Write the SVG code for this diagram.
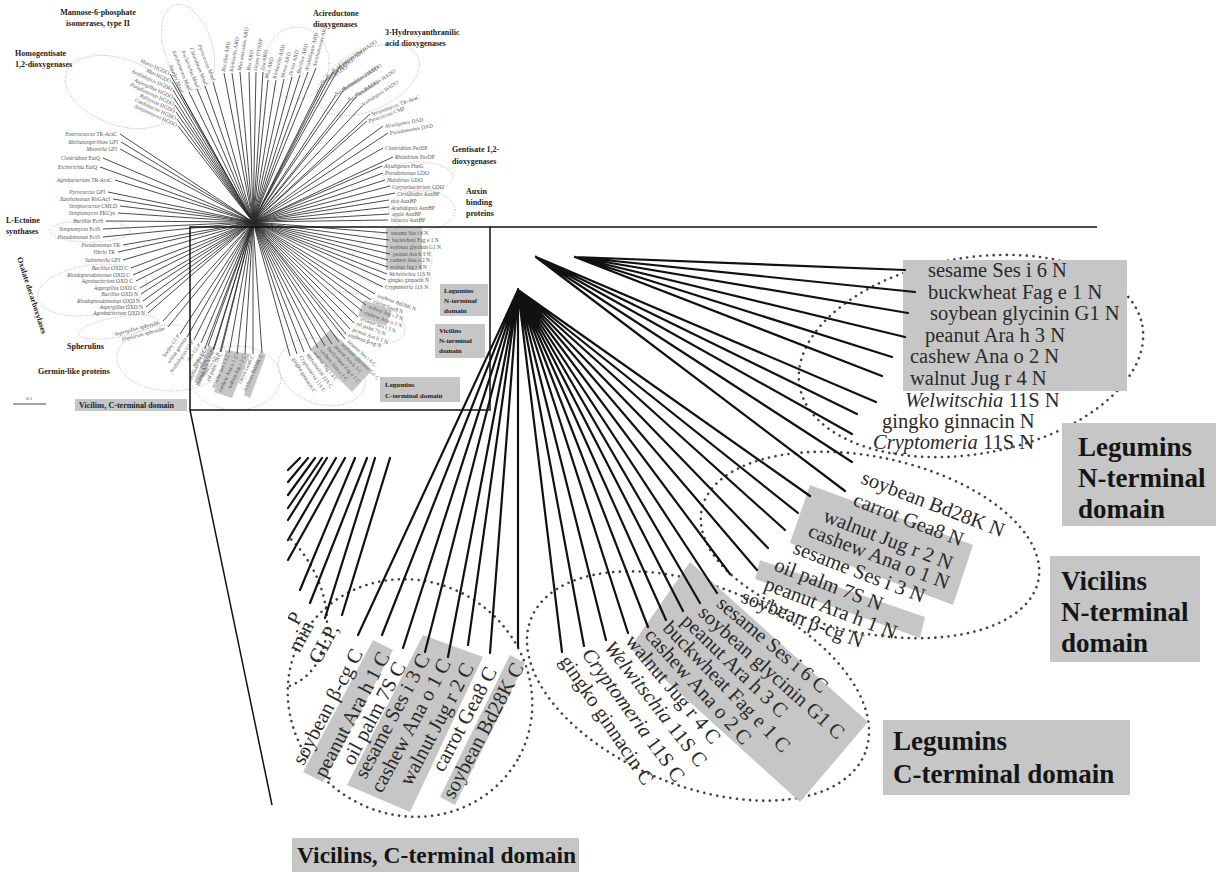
<svg xmlns="http://www.w3.org/2000/svg" width="1218" height="872" viewBox="0 0 1218 872">
<defs>
<style>
.br{stroke:#111;stroke-width:2.2;fill:none;stroke-linecap:round}
.sb{stroke:#2a2a2a;stroke-width:0.85;fill:none}
.dot{fill:none;stroke:#444;stroke-width:2.6;stroke-dasharray:0.1 6.5;stroke-linecap:round}
.sdot{fill:none;stroke:#999;stroke-width:0.7;stroke-dasharray:1 1.5}
.grey{fill:#c6c6c6}
.lbl{font-family:'Liberation Serif',serif;font-size:20.5px;fill:#2a2a2a}
.big{font-family:'Liberation Serif',serif;font-weight:bold;font-size:27px;fill:#151515}
.t{font-family:'Liberation Serif',serif;font-size:5.5px;fill:#555}
.g{font-family:'Liberation Serif',serif;font-weight:bold;font-size:8px;fill:#222}
.i{font-style:italic}
.frame{stroke:#111;stroke-width:1.5;fill:none}
</style>
<clipPath id="leftclip"><rect x="288" y="440" width="400" height="400"/></clipPath>
</defs>
<rect width="1218" height="872" fill="#fff"/>

<!-- ============ small overview tree ============ -->
<g id="overview-dotted">
<ellipse class="sdot" cx="120" cy="92" rx="57" ry="33" transform="rotate(20 120 92)"/>
<ellipse class="sdot" cx="188" cy="47" rx="24" ry="44" transform="rotate(-18 188 47)"/>
<ellipse class="sdot" cx="297" cy="63" rx="32" ry="36"/>
<ellipse class="sdot" cx="368" cy="80" rx="55" ry="30" transform="rotate(-25 368 80)"/>
<ellipse class="sdot" cx="418" cy="177" rx="35" ry="15"/>
<ellipse class="sdot" cx="422" cy="210" rx="33" ry="20"/>
<ellipse class="sdot" cx="90" cy="231" rx="40" ry="11"/>
<ellipse class="sdot" cx="92" cy="290" rx="55" ry="25" transform="rotate(-8 92 290)"/>
<ellipse class="sdot" cx="118" cy="327" rx="40" ry="10" transform="rotate(-10 118 327)"/>
<ellipse class="sdot" cx="172" cy="358" rx="55" ry="33"/>
<ellipse class="sdot" cx="392" cy="260" rx="40" ry="27"/>
<ellipse class="sdot" cx="362" cy="318" rx="45" ry="22" transform="rotate(20 362 318)"/>
<ellipse class="sdot" cx="322" cy="372" rx="45" ry="32" transform="rotate(20 322 372)"/>
<ellipse class="sdot" cx="236" cy="378" rx="45" ry="32"/>
</g>

<g id="overview-greyboxes">
<rect class="grey" x="386" y="228" width="36" height="42"/>
<polygon class="grey" points="364,300 392,310 386,326 358,316"/>
<polygon class="grey" points="330,330 372,370 352,392 310,350"/>
<polygon class="grey" points="209,345 215,348 200,385 194,382"/>
<polygon class="grey" points="226,350 250,354 232,398 214,392"/>
<polygon class="grey" points="260,352 266,355 250,398 244,395"/>
</g>

<g id="overview-branches">
<path class="sb" d="M253 222 L120 134 M253 222 L121 142 M253 222 L120 149 M253 222 L103 158 M253 222 L100 167 M253 222 L115 180 M253 222 L108 192 M253 222 L113 199 M253 222 L120 206 M253 222 L118 213 M253 222 L106 221 M253 222 L103 229 M253 222 L103 237 M253 222 L123 245 M253 222 L118 252 M253 222 L123 260 M253 222 L131 268 M253 222 L133 275 M253 222 L136 281 M253 222 L140 288 M253 222 L141 294 M253 222 L143 301 M253 222 L146 307 M253 222 L148 313 M253 222 L163 321 M253 222 L168 327
M253 222 L180 334 M253 222 L187 337 M253 222 L194 340 M253 222 L201 343 M253 222 L208 346 M253 222 L214 349 M253 222 L220 352
M253 222 L205 348 M253 222 L213 350 M253 222 L221 352 M253 222 L229 353 M253 222 L237 354 M253 222 L245 354 M253 222 L253 354 M253 222 L262 353
M253 222 L290 356 M253 222 L297 354 M253 222 L304 352 M253 222 L311 350 M253 222 L318 348 M253 222 L325 346 M253 222 L332 344 M253 222 L339 342 M253 222 L345 339
M253 222 L346 334 M253 222 L350 329 M253 222 L354 323 M253 222 L358 317 M253 222 L362 311 M253 222 L366 305 M253 222 L371 300 M253 222 L375 294
M253 222 L383 287 M253 222 L386 280 M253 222 L387 274 M253 222 L388 267 M253 222 L388 260 M253 222 L390 254 M253 222 L388 247 M253 222 L389 240 M253 222 L388 233
M253 222 L388 220 M253 222 L389 214 M253 222 L389 207 M253 222 L389 200 M253 222 L395 193 M253 222 L390 186 M253 222 L385 180 M253 222 L383 173 M253 222 L382 166 M253 222 L393 157 M253 222 L383 148 M253 222 L388 133 M253 222 L383 126 M253 222 L367 121 M253 222 L370 114
M253 222 L322 84 M253 222 L327 78 M253 222 L333 72 M253 222 L340 66 M253 222 L336 95 M253 222 L343 91 M253 222 L349 101 M253 222 L356 97 M253 222 L362 106
M253 222 L268 80 M253 222 L276 80 M253 222 L284 79 M253 222 L292 77 M253 222 L300 75 M253 222 L308 72 M253 222 L316 68
M253 222 L224 73 M253 222 L232 73 M253 222 L240 72 M253 222 L249 72 M253 222 L256 72 M253 222 L263 72
M253 222 L213 82 M253 222 L205 86 M253 222 L197 89 M253 222 L189 92 M253 222 L181 94
M253 222 L170 74 M253 222 L172 82 M253 222 L173 90 M253 222 L174 98 M253 222 L175 105 M253 222 L176 112 M253 222 L177 119 M253 222 L178 126"/>
</g>

<g id="overview-leaf-labels">
<g class="t" text-anchor="end">
<text x="117" y="136"><tspan class="i">Enterococcus</tspan> TR-AraC</text>
<text x="118" y="144"><tspan class="i">Methanospirillum</tspan> GPI</text>
<text x="117" y="151"><tspan class="i">Moorella</tspan> GPI</text>
<text x="100" y="160"><tspan class="i">Clostridium</tspan> EutQ</text>
<text x="97" y="169"><tspan class="i">Escherichia</tspan> EutQ</text>
<text x="112" y="182"><tspan class="i">Agrobacterium</tspan> TR-AraC</text>
<text x="105" y="194"><tspan class="i">Pyrococcus</tspan> GPI</text>
<text x="110" y="201"><tspan class="i">Xanthomonas</tspan> RbGAcI</text>
<text x="117" y="208"><tspan class="i">Streptococcus</tspan> CMLD</text>
<text x="115" y="215"><tspan class="i">Streptomyces</tspan> PKCys</text>
<text x="103" y="223"><tspan class="i">Bacillus</tspan> EctS</text>
<text x="100" y="231"><tspan class="i">Streptomyces</tspan> EctS</text>
<text x="100" y="239"><tspan class="i">Pseudomonas</tspan> EctS</text>
<text x="120" y="247"><tspan class="i">Pseudomonas</tspan> TR</text>
<text x="115" y="254"><tspan class="i">Vibrio</tspan> TR</text>
<text x="120" y="262"><tspan class="i">Salmonella</tspan> GPI</text>
<text x="128" y="270"><tspan class="i">Bacillus</tspan> OXD C</text>
<text x="130" y="277"><tspan class="i">Rhodopseudomonas</tspan> OXD C</text>
<text x="133" y="283"><tspan class="i">Agrobacterium</tspan> OXD C</text>
<text x="137" y="290"><tspan class="i">Aspergillus</tspan> OXD C</text>
<text x="138" y="296"><tspan class="i">Bacillus</tspan> OXD N</text>
<text x="140" y="303"><tspan class="i">Rhodopseudomonas</tspan> OXD N</text>
<text x="143" y="309"><tspan class="i">Aspergillus</tspan> OXD N</text>
<text x="145" y="315"><tspan class="i">Agrobacterium</tspan> OXD N</text>
<text transform="translate(160 324) rotate(-15)"><tspan class="i">Aspergillus</tspan> spherulin</text>
<text transform="translate(165 330) rotate(-15)"><tspan class="i">Physarum</tspan> spherulin</text>
<text transform="translate(180 336) rotate(-55)">barley GLP</text>
<text transform="translate(187 339) rotate(-55)">wheat germin</text>
<text transform="translate(194 342) rotate(-55)"><tspan class="i">Arabidopsis</tspan> GLP</text>
<text transform="translate(201 345) rotate(-55)">rice GLP</text>
<text transform="translate(208 348) rotate(-55)">moss GLP</text>
<text transform="translate(214 351) rotate(-55)">pine GLP</text>
<text transform="translate(220 354) rotate(-55)">tobacco GLP</text>
<text transform="translate(206 350) rotate(-65)">soybean β-cg C</text>
<text transform="translate(214 352) rotate(-65)">peanut Ara h 1 C</text>
<text transform="translate(222 354) rotate(-65)">oil palm 7S C</text>
<text transform="translate(230 355) rotate(-65)">sesame Ses i 3 C</text>
<text transform="translate(238 356) rotate(-65)">cashew Ana o 1 C</text>
<text transform="translate(246 356) rotate(-65)">walnut Jug r 2 C</text>
<text transform="translate(254 356) rotate(-65)">carrot Gea8 C</text>
<text transform="translate(263 355) rotate(-65)">soybean Bd28K C</text>
<text transform="translate(213 83) rotate(68)"><tspan class="i">Pyrococcus</tspan> ManC</text>
<text transform="translate(205 87) rotate(68)"><tspan class="i">Chlorobium</tspan> ManC</text>
<text transform="translate(197 90) rotate(68)"><tspan class="i">Escherichia</tspan> ManC</text>
<text transform="translate(189 93) rotate(68)"><tspan class="i">Xanthomonas</tspan> ManC</text>
<text transform="translate(181 95) rotate(68)"><tspan class="i">Aquifex</tspan> ManC</text>
<text transform="translate(168 75) rotate(25)"><tspan class="i">Homo</tspan> HGDO</text>
<text transform="translate(170 83) rotate(25)"><tspan class="i">Mus</tspan> HGDO</text>
<text transform="translate(171 91) rotate(25)"><tspan class="i">Arabidopsis</tspan> HGDO</text>
<text transform="translate(172 99) rotate(25)"><tspan class="i">Aspergillus</tspan> HGDO</text>
<text transform="translate(173 106) rotate(25)"><tspan class="i">Pseudomonas</tspan> HGDO</text>
<text transform="translate(174 113) rotate(25)"><tspan class="i">Ralstonia</tspan> HGDO</text>
<text transform="translate(175 120) rotate(25)"><tspan class="i">Caulobacter</tspan> HGDO</text>
<text transform="translate(176 127) rotate(25)"><tspan class="i">Streptomyces</tspan> HGDO</text>
</g>
<g class="t">
<text transform="translate(372 116) rotate(-20)"><tspan class="i">Streptomyces</tspan> TR-AraC</text>
<text transform="translate(369 123) rotate(-20)"><tspan class="i">Pyrococcus</tspan> CMP</text>
<text transform="translate(385 128) rotate(-10)"><tspan class="i">Alcaligenes</tspan> DAD</text>
<text transform="translate(390 135) rotate(-10)"><tspan class="i">Pseudomonas</tspan> DAD</text>
<text x="385" y="150"><tspan class="i">Clostridium</tspan> PecDP</text>
<text x="395" y="159"><tspan class="i">Rhizobium</tspan> PecDP</text>
<text x="384" y="168"><tspan class="i">Alcaligenes</tspan> PhnG</text>
<text x="385" y="175"><tspan class="i">Pseudomonas</tspan> GDO</text>
<text x="387" y="182"><tspan class="i">Haloferax</tspan> GDO</text>
<text x="392" y="189"><tspan class="i">Corynebacterium</tspan> GDO</text>
<text x="397" y="196"><tspan class="i">Cirsidiodes</tspan> AuxBP</text>
<text x="391" y="203">rice AuxBP</text>
<text x="391" y="210"><tspan class="i">Arabidopsis</tspan> AuxBP</text>
<text x="392" y="216">apple AuxBP</text>
<text x="391" y="222">tobacco AuxBP</text>
<text x="391" y="235">sesame Ses i 6 N</text>
<text x="392" y="242">buckwheat Fag e 1 N</text>
<text x="390" y="249">soybean glycinin G1 N</text>
<text x="393" y="256">peanut Ara h 3 N</text>
<text x="390" y="262">cashew Ana o 2 N</text>
<text x="390" y="269">walnut Jug r 4 N</text>
<text x="389" y="276"><tspan class="i">Welwitschia</tspan> 11S N</text>
<text x="388" y="282">gingko ginnacin N</text>
<text x="385" y="289"><tspan class="i">Cryptomeria</tspan> 11S N</text>
<text transform="translate(377 297) rotate(20)">soybean Bd28K N</text>
<text transform="translate(373 303) rotate(20)">carrot Gea8 N</text>
<text transform="translate(368 308) rotate(20)">walnut Jug r 2 N</text>
<text transform="translate(364 314) rotate(20)">cashew Ana o 1 N</text>
<text transform="translate(360 320) rotate(20)">sesame Ses i 3 N</text>
<text transform="translate(356 325) rotate(20)">oil palm 7S N</text>
<text transform="translate(352 331) rotate(20)">peanut Ara h 1 N</text>
<text transform="translate(348 336) rotate(20)">soybean β-cg N</text>
<text transform="translate(347 342) rotate(42)">sesame Ses i 6 C</text>
<text transform="translate(341 345) rotate(44)">soybean glycinin G1 C</text>
<text transform="translate(334 347) rotate(46)">peanut Ara h 3 C</text>
<text transform="translate(327 349) rotate(48)">buckwheat Fag e 1 C</text>
<text transform="translate(320 351) rotate(50)">cashew Ana o 2 C</text>
<text transform="translate(313 353) rotate(52)">walnut Jug r 4 C</text>
<text transform="translate(306 355) rotate(54)"><tspan class="i">Welwitschia</tspan> 11S C</text>
<text transform="translate(299 357) rotate(56)"><tspan class="i">Cryptomeria</tspan> 11S C</text>
<text transform="translate(292 359) rotate(58)">gingko ginnacin C</text>
<text transform="translate(322 85) rotate(-33)"><tspan class="i">Homo</tspan> HADO</text>
<text transform="translate(327 79) rotate(-33)"><tspan class="i">Rattus</tspan> HADO</text>
<text transform="translate(333 73) rotate(-33)"><tspan class="i">Ralstonia</tspan> HADO</text>
<text transform="translate(340 67) rotate(-33)"><tspan class="i">Cupriavidus</tspan> HADO</text>
<text transform="translate(336 96) rotate(-33)"><tspan class="i">Saccharomyces</tspan> HADO</text>
<text transform="translate(343 92) rotate(-33)"><tspan class="i">Burkholderia</tspan> HADO</text>
<text transform="translate(349 102) rotate(-33)"><tspan class="i">Bacillus</tspan> HADO</text>
<text transform="translate(356 98) rotate(-33)"><tspan class="i">Pseudomonas</tspan> HADO</text>
<text transform="translate(362 107) rotate(-33)"><tspan class="i">Arabidopsis</tspan> HADO</text>
<text transform="translate(268 79) rotate(-75)"><tspan class="i">Mus</tspan> ARD</text>
<text transform="translate(276 79) rotate(-75)"><tspan class="i">Klebsiella</tspan> ARD</text>
<text transform="translate(284 78) rotate(-75)"><tspan class="i">Homo</tspan> ARD</text>
<text transform="translate(292 76) rotate(-75)"><tspan class="i">Oryza</tspan> ARD</text>
<text transform="translate(300 74) rotate(-75)"><tspan class="i">Bacillus</tspan> ARD</text>
<text transform="translate(308 71) rotate(-75)"><tspan class="i">Arabidopsis</tspan> ARD</text>
<text transform="translate(316 67) rotate(-75)"><tspan class="i">Xanthomonas</tspan> ARD</text>
<text transform="translate(225 72) rotate(-80)"><tspan class="i">Bacillus</tspan> ARD</text>
<text transform="translate(233 72) rotate(-80)"><tspan class="i">Klebsiella</tspan> ARD</text>
<text transform="translate(241 71) rotate(-80)"><tspan class="i">Mus musculus</tspan> ARD</text>
<text transform="translate(250 71) rotate(-80)"><tspan class="i">Bos</tspan> ARD</text>
<text transform="translate(257 71) rotate(-80)"><tspan class="i">Oryza</tspan> DTNBP</text>
<text transform="translate(264 71) rotate(-80)"><tspan class="i">Zea</tspan> ARD</text>
</g>
</g>

<g id="overview-group-labels" class="g">
<text x="98" y="15" text-anchor="middle">Mannose-6-phosphate</text>
<text x="98" y="26" text-anchor="middle">isomerases, type II</text>
<text x="15" y="56">Homogentisate</text>
<text x="15" y="67">1,2-dioxygenases</text>
<text x="313" y="16">Acireductone</text>
<text x="313" y="27">dioxygenases</text>
<text x="385" y="35">3-Hydroxyanthranilic</text>
<text x="385" y="46">acid dioxygenases</text>
<text x="452" y="152">Gentisate 1,2-</text>
<text x="452" y="164">dioxygenases</text>
<text x="466" y="194">Auxin</text>
<text x="466" y="205">binding</text>
<text x="466" y="216">proteins</text>
<text x="6" y="223">L-Ectoine</text>
<text x="6" y="234">synthases</text>
<text transform="translate(17 258) rotate(72)">Oxalate decarboxylases</text>
<text x="67" y="349">Spherulins</text>
<text x="38" y="374">Germin-like proteins</text>
</g>

<g id="overview-scale">
<line x1="13" y1="404" x2="46" y2="404" stroke="#444" stroke-width="1"/>
<text x="29" y="400" text-anchor="middle" style="font-family:'Liberation Serif',serif;font-size:5px;fill:#444">0.1</text>
</g>

<g id="overview-domain-boxes">
<rect class="grey" x="75" y="399" width="112" height="12"/>
<text class="g" x="79" y="408">Vicilins, C-terminal domain</text>
<rect class="grey" x="440" y="284" width="48" height="32"/>
<text class="g" style="font-size:7px" x="444" y="293">Legumins</text>
<text class="g" style="font-size:7px" x="444" y="303">N-terminal</text>
<text class="g" style="font-size:7px" x="444" y="313">domain</text>
<rect class="grey" x="435" y="324" width="50" height="34"/>
<text class="g" style="font-size:7px" x="439" y="333">Vicilins</text>
<text class="g" style="font-size:7px" x="439" y="343">N-terminal</text>
<text class="g" style="font-size:7px" x="439" y="353">domain</text>
<rect class="grey" x="380" y="377" width="80" height="25"/>
<text class="g" style="font-size:7px" x="385" y="387">Legumins</text>
<text class="g" style="font-size:7px" x="385" y="398">C-terminal domain</text>
</g>

<g id="zoom-frame">
<rect class="frame" x="190" y="227" width="300" height="183"/>
<line class="frame" x1="490" y1="227" x2="1097" y2="227"/>
<line class="frame" x1="190" y1="410" x2="272" y2="805"/>
</g>

<!-- ============ enlarged tree ============ -->
<g id="zoom-ellipses">
<ellipse class="dot" cx="971" cy="356" rx="174" ry="98" transform="rotate(-10 971 356)"/>
<ellipse class="dot" cx="870" cy="545" rx="172" ry="88" transform="rotate(12 870 545)"/>
<ellipse class="dot" cx="698" cy="686" rx="180" ry="100" transform="rotate(22 698 686)"/>
<ellipse class="dot" cx="410" cy="698" rx="124" ry="117" transform="rotate(30 410 698)"/>
<g clip-path="url(#leftclip)"><ellipse class="dot" cx="250" cy="600" rx="70" ry="95" transform="rotate(-30 250 600)"/></g>
</g>

<g id="zoom-greyboxes">
<rect class="grey" x="903" y="260" width="224" height="131"/>
<polygon class="grey" points="810,485 973,545 953,605 790,543"/>
<polygon class="grey" points="760,560 925,617 920,638 755,579"/>
<polygon class="grey" points="690,562 868,722 800,802 630,648"/>
<polygon class="grey" points="303,772 373,640 393,650 323,782"/>
<polygon class="grey" points="347,785 423,635 483,657 410,812"/>
<polygon class="grey" points="440,797 510,655 525,663 455,805"/>
</g>

<g id="zoom-branches">
<path class="br" d="M575 257 L905 270 M575 257 L915 292 M575 257 L908 313 M575 257 L905 337 M575 257 L892 357 M575 257 L882 376
M536 257 L876 402 M536 257 L857 414 M536 257 L852 434 M536 257 L852 462 M536 257 L845 491
M518 290 L810 496 M518 290 L798 513 M518 290 L785 530 M518 290 L768 548 M518 290 L757 570 M518 290 L730 574
M518 290 L717 593 M518 290 L700 603 M518 290 L683 611 M518 290 L666 620 M518 290 L648 627 M518 290 L628 633 M518 290 L606 640 M518 290 L584 646 M518 290 L562 652
M518 290 L518 647 M518 290 L490 653 M518 290 L468 645 M518 290 L448 657 M518 290 L425 652 M518 290 L403 648 M518 290 L382 635 M518 290 L358 635
M300 458 L288 470 M308 458 L288 482 M315 458 L288 495 M322 458 L288 508 M327 458 L288 520 M336 458 L288 540 M345 458 L288 560 M355 458 L300 590 M367 458 L310 603 M375 458 L325 618 M390 458 L342 615"/>
</g>

<g id="zoom-legumin-N-labels" class="lbl">
<text x="928" y="277">sesame Ses i 6 N</text>
<text x="928" y="299">buckwheat Fag e 1 N</text>
<text x="930" y="320">soybean glycinin G1 N</text>
<text x="925" y="342">peanut Ara h 3 N</text>
<text x="910" y="363">cashew Ana o 2 N</text>
<text x="910" y="385">walnut Jug r 4 N</text>
<text x="905" y="407"><tspan class="i">Welwitschia</tspan> 11S N</text>
<text x="882" y="428">gingko ginnacin N</text>
<text x="873" y="449"><tspan class="i">Cryptomeria</tspan> 11S N</text>
</g>

<g id="zoom-vicilin-N-labels" class="lbl">
<text transform="translate(860 483) rotate(21)">soybean Bd28K N</text>
<text transform="translate(852 505) rotate(21)">carrot Gea8 N</text>
<text transform="translate(822 521) rotate(21)">walnut Jug r 2 N</text>
<text transform="translate(807 536) rotate(21)">cashew Ana o 1 N</text>
<text transform="translate(792 553) rotate(21)">sesame Ses i 3 N</text>
<text transform="translate(773 570) rotate(21)">oil palm 7S N</text>
<text transform="translate(763 589) rotate(21)">peanut Ara h 1 N</text>
<text transform="translate(740 602) rotate(21)">soybean β-cg N</text>
</g>

<g id="zoom-legumin-C-labels" class="lbl">
<text transform="translate(720 600) rotate(40)" dy="0.35em">sesame Ses i 6 C</text>
<text transform="translate(702 609) rotate(42)" dy="0.35em">soybean glycinin G1 C</text>
<text transform="translate(685 617) rotate(44)" dy="0.35em">peanut Ara h 3 C</text>
<text transform="translate(667 624) rotate(46)" dy="0.35em">buckwheat Fag e 1 C</text>
<text transform="translate(649 631) rotate(48)" dy="0.35em">cashew Ana o 2 C</text>
<text transform="translate(630 637) rotate(50)" dy="0.35em">walnut Jug r 4 C</text>
<text transform="translate(609 643) rotate(52)" dy="0.35em"><tspan class="i">Welwitschia</tspan> 11S C</text>
<text transform="translate(587 650) rotate(54)" dy="0.35em"><tspan class="i">Cryptomeria</tspan> 11S C</text>
<text transform="translate(565 657) rotate(56)" dy="0.35em">gingko ginnacin C</text>
</g>

<g id="zoom-vicilin-C-labels" class="lbl" text-anchor="end">
<text transform="translate(357 650) rotate(-62)" dy="0.35em">soybean β-cg C</text>
<text transform="translate(384 653) rotate(-62)" dy="0.35em">peanut Ara h 1 C</text>
<text transform="translate(400 663) rotate(-62)" dy="0.35em">oil palm 7S C</text>
<text transform="translate(424 655) rotate(-62)" dy="0.35em">sesame Ses i 3 C</text>
<text transform="translate(445 660) rotate(-62)" dy="0.35em">cashew Ana o 1 C</text>
<text transform="translate(468 664) rotate(-62)" dy="0.35em">walnut Jug r 2 C</text>
<text transform="translate(491 668) rotate(-62)" dy="0.35em">carrot Gea8 C</text>
<text transform="translate(518 664) rotate(-62)" dy="0.35em">soybean Bd28K C</text>
<g clip-path="url(#leftclip)">
<text transform="translate(297 613) rotate(-62)" dy="0.35em">P</text>
<text transform="translate(308 622) rotate(-62)" dy="0.35em">min</text>
<text transform="translate(333 625) rotate(-62)" dy="0.35em">GLP,</text>
</g>
</g>

<g id="zoom-domain-labels">
<rect class="grey" x="1062" y="423" width="154" height="103"/>
<text class="big" x="1078" y="456">Legumins</text>
<text class="big" x="1078" y="487">N-terminal</text>
<text class="big" x="1078" y="518">domain</text>
<rect class="grey" x="1050" y="556" width="150" height="106"/>
<text class="big" x="1061" y="590">Vicilins</text>
<text class="big" x="1061" y="621">N-terminal</text>
<text class="big" x="1061" y="652">domain</text>
<rect class="grey" x="883" y="720" width="247" height="75"/>
<text class="big" x="893" y="750">Legumins</text>
<text class="big" x="893" y="783">C-terminal domain</text>
<rect class="grey" x="292" y="838" width="287" height="34"/>
<text class="big" style="font-size:23.5px" x="297" y="863">Vicilins, C-terminal domain</text>
</g>
</svg>
